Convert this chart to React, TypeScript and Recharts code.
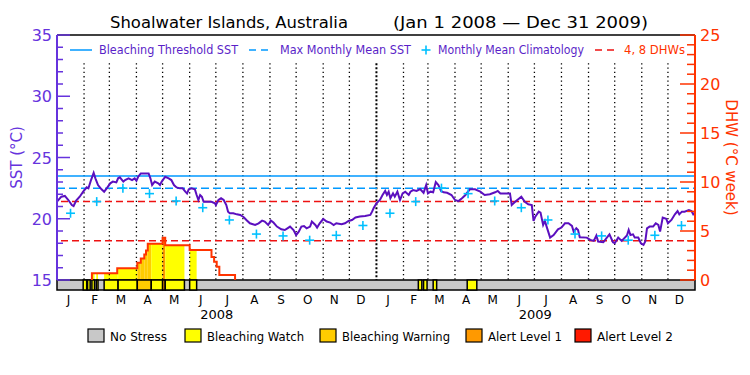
import React from 'react';
import { ComposedChart, Line, Scatter, XAxis, YAxis, ReferenceLine, ReferenceArea, Legend } from 'recharts';

const FONT = '"DejaVu Sans", sans-serif';
const PURPLE = '#6633dd';
const PURPLE_TEXT = '#5a1fc8';
const SST_LINE = '#5b0fbf';
const BLUE = '#0099ff';
const CYAN = '#00c0ff';
const RED = '#ee1111';
const DHW_RED = '#ff3300';

// ---------- data ----------
const titlePlace = 'Shoalwater Islands, Australia';
const titleRange = '(Jan 1 2008 \u2014 Dec 31 2009)';

const monthStartDays = [0, 31, 60, 91, 121, 152, 182, 213, 244, 274, 305, 335, 366, 397, 425, 456, 486, 517, 547, 578, 609, 639, 670, 700, 731];
const monthLetters = ['J', 'F', 'M', 'A', 'M', 'J', 'J', 'A', 'S', 'O', 'N', 'D', 'J', 'F', 'M', 'A', 'M', 'J', 'J', 'A', 'S', 'O', 'N', 'D'];
const yearLabels = ['2008', '2009'];
const yearMidDays = [183, 548];

const sstDays = [0, 5, 9, 13, 17, 19, 22, 26, 30, 34, 36, 39, 42, 44, 47, 51, 54, 57, 61, 64, 68, 70, 72, 76, 78, 82, 86, 89, 91, 93, 96, 101, 105, 107, 109, 112, 116, 118, 120, 124, 128, 131, 134, 137, 141, 144, 147, 149, 151, 154, 158, 160, 162, 164, 166, 168, 172, 177, 181, 182, 185, 188, 191, 194, 196, 198, 202, 206, 210, 214, 217, 221, 227, 231, 235, 238, 242, 245, 248, 252, 257, 261, 264, 267, 271, 274, 277, 280, 283, 286, 290, 292, 296, 298, 301, 305, 309, 313, 317, 320, 326, 330, 334, 338, 342, 347, 353, 359, 361, 363, 366, 370, 373, 376, 378, 380, 382, 385, 387, 390, 393, 396, 399, 403, 405, 408, 412, 416, 420, 423, 425, 428, 431, 434, 437, 440, 443, 447, 452, 456, 460, 464, 468, 473, 479, 485, 490, 496, 502, 505, 508, 519, 521, 525, 532, 536, 540, 544, 546, 548, 552, 554, 557, 559, 561, 565, 569, 574, 578, 582, 586, 590, 592, 595, 597, 599, 607, 611, 615, 618, 620, 626, 630, 633, 637, 639, 643, 647, 653, 655, 657, 660, 662, 666, 669, 672, 674, 676, 679, 683, 686, 689, 691, 694, 698, 700, 704, 708, 711, 713, 716, 719, 724, 727, 729, 731];
const sstValues = [21.4, 21.8, 21.86, 21.53, 21.12, 21.04, 21.48, 21.8, 22.21, 22.56, 22.48, 23.16, 23.75, 23.3, 22.75, 22.4, 22.21, 22.48, 22.89, 23.03, 22.97, 23.3, 23.38, 23.03, 23.16, 23.3, 23.16, 23.3, 23.1, 23.43, 23.7, 23.7, 23.7, 23.3, 22.75, 23.03, 22.89, 22.75, 23.03, 23.43, 23.3, 23.16, 22.75, 22.56, 22.48, 22.48, 22.21, 22.07, 22.4, 22.48, 22.4, 21.94, 21.53, 21.94, 21.8, 21.39, 21.39, 21.39, 21.26, 21.12, 21.53, 21.67, 21.53, 21.12, 20.58, 20.44, 20.44, 20.36, 20.31, 20.12, 19.9, 19.63, 19.49, 19.63, 19.85, 19.77, 19.49, 19.85, 19.69, 19.36, 19.14, 19.08, 19.22, 19.36, 19.08, 18.67, 18.95, 19.36, 19.4, 19.22, 19.36, 19.77, 19.49, 19.28, 19.63, 19.98, 19.77, 19.69, 19.49, 19.63, 19.55, 19.63, 19.82, 19.9, 20.1, 20.18, 20.23, 20.31, 20.58, 20.9, 21.26, 21.53, 21.94, 22.27, 21.94, 22.21, 21.67, 22.07, 21.8, 22.21, 21.53, 22.07, 22.21, 21.94, 22.21, 22.34, 22.27, 22.42, 22.12, 22.75, 22.07, 22.21, 22.16, 23.0, 22.75, 22.27, 22.16, 22.12, 21.94, 21.53, 21.44, 21.67, 21.94, 22.4, 22.4, 22.21, 21.94, 22.0, 22.16, 22.27, 22.07, 22.07, 21.12, 21.39, 21.8, 21.39, 21.18, 21.12, 19.82, 20.17, 20.58, 20.5, 19.49, 19.82, 19.36, 18.46, 18.67, 19.14, 19.28, 19.63, 19.63, 19.42, 18.95, 19.22, 19.08, 18.49, 18.46, 18.27, 18.19, 18.63, 18.14, 18.08, 18.46, 18.73, 18.08, 18.0, 18.46, 18.19, 18.63, 19.08, 18.67, 18.73, 18.46, 18.46, 18.0, 17.87, 18.14, 19.22, 19.36, 19.36, 19.63, 19.49, 18.95, 20.1, 20.0, 19.63, 19.9, 20.36, 20.63, 20.36, 20.58, 20.58, 20.71, 20.63, 20.36, 20.5];

const climatologyValues = [20.45, 21.4, 22.5, 22.05, 21.45, 20.9, 19.9, 18.75, 18.6, 18.25, 18.65, 19.45];
const bleachingThreshold = 23.5;
const maxMonthlyMean = 22.5;
const dhwGuides = [4, 8];

const dhwStepDays = [40, 69, 92, 96, 100, 102, 104, 121, 124, 152, 177, 180, 183, 186, 204];
const dhwStepValues = [0.7, 1.2, 1.75, 2.2, 2.6, 3.0, 3.7, 4.3, 3.55, 3.05, 2.35, 1.85, 1.35, 0.5, 0];

const stressStarts = [30, 35, 40, 45, 54, 70, 92, 108, 121, 124, 152, 414, 420, 431, 470];
const stressEnds = [34, 38, 43, 47, 70, 92, 108, 121, 124, 146, 160, 418, 424, 435, 481];
const stressLevels = [1, 1, 1, 1, 1, 1, 2, 1, 3, 1, 1, 1, 1, 1, 1];
const stressNames = ['No Stress', 'Bleaching Watch', 'Bleaching Warning', 'Alert Level 1', 'Alert Level 2'];
const stressColors = ['#c8c8c8', '#ffff00', '#ffcc00', '#ff9900', '#ff1a00'];

const sstTicks = Array.from({ length: 21 }, (_, i) => 15 + i);
const dhwTicks = Array.from({ length: 26 }, (_, i) => i);

// ---------- derived tables ----------
const sstData = sstDays.map((d, i) => ({ day: d, sst: sstValues[i] }));
const monthMidDays = monthLetters.map((_, i) => (monthStartDays[i] + monthStartDays[i + 1]) / 2);
const climData = monthMidDays.map((d, i) => ({ day: d, sst: climatologyValues[i % 12] }));
const dhwLine = [{ day: dhwStepDays[0], dhw: 0 }, ...dhwStepDays.map((d, i) => ({ day: d, dhw: dhwStepValues[i] }))];

type Rect = { x1: number; x2: number; y: number; color: string };
const dhwFill: Rect[] = [];
stressStarts.forEach((a, i) => {
  const b = stressEnds[i];
  dhwStepDays.forEach((d, j) => {
    const next = j + 1 < dhwStepDays.length ? dhwStepDays[j + 1] : 731;
    const lo = Math.max(a, d);
    const hi = Math.min(b, next);
    const v = dhwStepValues[j];
    if (hi > lo && v > 0) dhwFill.push({ x1: lo, x2: hi, y: v, color: stressColors[stressLevels[i]] });
  });
});

// ---------- custom pieces ----------
const TM = 6;
const LeftTick = (props: any) => {
  const { x, y, payload } = props;
  const ax = x + TM;
  const major = payload.value % 5 === 0;
  return (
    <g>
      <line x1={ax} x2={ax + (major ? 13 : 6)} y1={y} y2={y} stroke={PURPLE} strokeWidth={1.5} />
      {major && (
        <text x={ax - 5} y={y + 6} textAnchor="end" fill={PURPLE} fontSize={16} fontFamily={FONT}>
          {payload.value}
        </text>
      )}
    </g>
  );
};
const RightTick = (props: any) => {
  const { x, y, payload } = props;
  const ax = x - TM;
  const major = payload.value % 5 === 0;
  return (
    <g>
      <line x1={ax} x2={ax - (major ? 15 : 8)} y1={y} y2={y} stroke={DHW_RED} strokeWidth={1.5} />
      {major && (
        <text x={ax + 5} y={y + 6} textAnchor="start" fill={DHW_RED} fontSize={16} fontFamily={FONT}>
          {payload.value}
        </text>
      )}
    </g>
  );
};
const PlusShape = (props: any) => {
  const { cx, cy } = props;
  if (cx == null || cy == null) return <g />;
  return (
    <g>
      <line x1={cx - 4.5} x2={cx + 4.5} y1={cy} y2={cy} stroke={CYAN} strokeWidth={1.6} />
      <line x1={cx} x2={cx} y1={cy - 4.5} y2={cy + 4.5} stroke={CYAN} strokeWidth={1.6} />
    </g>
  );
};

const TopLegend = () => (
  <svg width={750} height={20} style={{ display: 'block' }}>
    <line x1={70} x2={92} y1={10} y2={10} stroke={BLUE} strokeWidth={1.5} />
    <text x={99} y={14} fontSize={11.5} fill={PURPLE_TEXT} fontFamily={FONT} textLength={139} lengthAdjust="spacingAndGlyphs">Bleaching Threshold SST</text>
    <line x1={249} x2={273} y1={10} y2={10} stroke={BLUE} strokeWidth={1.5} strokeDasharray="7 5" />
    <text x={280} y={14} fontSize={11.5} fill={PURPLE_TEXT} fontFamily={FONT} textLength={131} lengthAdjust="spacingAndGlyphs">Max Monthly Mean SST</text>
    <line x1={421.5} x2={430.5} y1={10} y2={10} stroke={CYAN} strokeWidth={1.6} />
    <line x1={426} x2={426} y1={5.5} y2={14.5} stroke={CYAN} strokeWidth={1.6} />
    <text x={438} y={14} fontSize={11.5} fill={PURPLE_TEXT} fontFamily={FONT} textLength={146} lengthAdjust="spacingAndGlyphs">Monthly Mean Climatology</text>
    <line x1={595} x2={619} y1={10} y2={10} stroke={RED} strokeWidth={1.5} strokeDasharray="7 5" />
    <text x={624} y={14} fontSize={11.5} fill={DHW_RED} fontFamily={FONT} textLength={61} lengthAdjust="spacingAndGlyphs">4, 8 DHWs</text>
  </svg>
);

const legendBoxX = [88, 185, 320, 466, 575];
const legendTextLen = [57, 97, 108, 74, 76];
const BottomLegend = () => (
  <svg width={750} height={20} style={{ display: 'block' }}>
    {stressNames.map((n, i) => (
      <g key={n}>
        <rect x={legendBoxX[i]} y={3} width={16} height={13} fill={stressColors[i]} stroke="#000" strokeWidth={1.2} />
        <text x={legendBoxX[i] + 22} y={14.5} fontSize={12} fill="#000" fontFamily={FONT} textLength={legendTextLen[i]} lengthAdjust="spacingAndGlyphs">{n}</text>
      </g>
    ))}
  </svg>
);

export default function App() {
  return (
    <div style={{ position: 'absolute', left: 0, top: 0, width: 750, height: 375, background: '#fff', fontFamily: FONT }}>
      <svg width={750} height={375} style={{ position: 'absolute', left: 0, top: 0 }}>
        <text x={110} y={28} fontSize={16} fill="#000" fontFamily={FONT} textLength={238} lengthAdjust="spacingAndGlyphs">{titlePlace}</text>
        <text x={393} y={28} fontSize={16} fill="#000" fontFamily={FONT} textLength={255} lengthAdjust="spacingAndGlyphs">{titleRange}</text>
      </svg>
      <div style={{ position: 'absolute', left: 0, top: 0 }}>
        <ComposedChart width={750} height={375} margin={{ top: 35, right: 5, bottom: 45, left: 7 }}>
          <XAxis
            xAxisId="m"
            type="number"
            dataKey="day"
            domain={[0, 731]}
            allowDataOverflow
            ticks={monthMidDays}
            interval={0}
            height={20}
            axisLine={false}
            tickLine={false}
            tickSize={0}
            tickMargin={15}
            tickFormatter={(v: number) => monthLetters[monthMidDays.indexOf(v)] ?? ''}
            tick={{ fontSize: 12, fill: '#000', fontFamily: FONT, dx: -2 }}
          />
          <XAxis
            xAxisId="y"
            type="number"
            dataKey="day"
            domain={[0, 731]}
            allowDataOverflow
            ticks={yearMidDays}
            interval={0}
            height={30}
            axisLine={false}
            tickLine={false}
            tickSize={0}
            tickMargin={10}
            tickFormatter={(v: number) => yearLabels[yearMidDays.indexOf(v)] ?? ''}
            tick={{ fontSize: 13, fill: '#000', fontFamily: FONT }}
          />
          <YAxis
            yAxisId="sst"
            domain={[15, 35]}
            ticks={sstTicks}
            interval={0}
            width={50}
            allowDataOverflow
            axisLine={{ stroke: PURPLE, strokeWidth: 2 }}
            tickLine={false}
            tickSize={0}
            tickMargin={TM}
            tick={<LeftTick />}
            label={{ value: 'SST (\u00b0C)', angle: -90, position: 'insideLeft', offset: 10, fill: PURPLE, fontSize: 15, fontFamily: FONT, style: { textAnchor: 'middle' } }}
          />
          <YAxis
            yAxisId="dhw"
            orientation="right"
            domain={[0, 25]}
            ticks={dhwTicks}
            interval={0}
            width={50}
            allowDataOverflow
            axisLine={{ stroke: DHW_RED, strokeWidth: 2 }}
            tickLine={false}
            tickSize={0}
            tickMargin={TM}
            tick={<RightTick />}
            label={{ value: 'DHW (\u00b0C week)', angle: 90, position: 'insideRight', offset: 14, fill: DHW_RED, fontSize: 15, fontFamily: FONT, style: { textAnchor: 'middle' } }}
          />
          <YAxis yAxisId="strip" hide domain={[0, 24.5]} allowDataOverflow />
          {dhwFill.map((r, i) => (
            <ReferenceArea key={'f' + i} xAxisId="m" yAxisId="dhw" x1={r.x1} x2={r.x2} y1={0} y2={r.y} fill={r.color} fillOpacity={1} stroke="none" />
          ))}
          {monthStartDays.slice(1, -1).map((d) => (
            <ReferenceLine
              key={'m' + d}
              xAxisId="m"
              yAxisId="sst"
              segment={[{ x: d, y: 32.7 }, { x: d, y: 15 }]}
              stroke="#000"
              strokeWidth={d === 366 ? 2 : 1.3}
              strokeDasharray={d === 366 ? '2 2' : '1.3 3'}
            />
          ))}
          <ReferenceLine xAxisId="m" yAxisId="sst" y={35} stroke="#000" strokeWidth={1.5} />
          <ReferenceLine xAxisId="m" yAxisId="sst" y={bleachingThreshold} stroke={BLUE} strokeWidth={1.5} />
          <ReferenceLine xAxisId="m" yAxisId="sst" y={maxMonthlyMean} stroke={BLUE} strokeWidth={1.5} strokeDasharray="8 4" />
          {dhwGuides.map((g) => (
            <ReferenceLine key={'g' + g} xAxisId="m" yAxisId="dhw" y={g} stroke={RED} strokeWidth={1.5} strokeDasharray="7 4" />
          ))}
          <Line data={dhwLine} xAxisId="y" yAxisId="dhw" dataKey="dhw" type="stepAfter" stroke={DHW_RED} strokeWidth={2} dot={false} isAnimationActive={false} />
          <Line data={sstData} xAxisId="m" yAxisId="sst" dataKey="sst" type="linear" stroke={SST_LINE} strokeWidth={2} dot={false} isAnimationActive={false} />
          <Scatter data={climData} xAxisId="m" yAxisId="sst" dataKey="sst" shape={<PlusShape />} isAnimationActive={false} />
          <ReferenceArea xAxisId="m" yAxisId="strip" x1={0} x2={731} y1={-1} y2={0} ifOverflow="visible" fill={stressColors[0]} fillOpacity={1} stroke="#000" strokeWidth={1.5} />
          {stressStarts.map((a, i) => (
            <ReferenceArea key={'s' + i} xAxisId="m" yAxisId="strip" x1={a} x2={stressEnds[i]} y1={-1} y2={0} ifOverflow="visible" fill={stressColors[stressLevels[i]]} fillOpacity={1} stroke="#000" strokeWidth={1.5} />
          ))}
          <Legend layout="vertical" align="center" verticalAlign="middle" wrapperStyle={{ position: 'absolute', left: 0, top: 40, width: 750, height: 20 }} content={() => <TopLegend />} />
        </ComposedChart>
      </div>
      <div style={{ position: 'absolute', left: 0, top: 326, width: 750, height: 20 }}>
        <BottomLegend />
      </div>
    </div>
  );
}
